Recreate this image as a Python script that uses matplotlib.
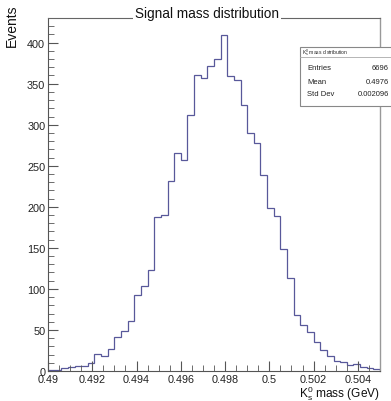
import numpy as np
import matplotlib
matplotlib.use("Agg")
import matplotlib.pyplot as plt
from matplotlib.patches import Rectangle
from matplotlib.lines import Line2D
from matplotlib.ticker import MultipleLocator, FixedLocator, FixedFormatter

plt.rcParams['font.family'] = ['Liberation Sans', 'DejaVu Sans']
plt.rcParams['mathtext.default'] = 'regular'

# histogram: 50 bins between 0.49 and 0.505 GeV
x_lo = 0.49
x_hi = 0.505
n_bins = 50
counts = [1, 1, 4, 5, 6, 6, 10, 21, 18, 27,
          42, 49, 61, 92, 104, 123, 188, 190, 231, 266,
          257, 312, 361, 357, 372, 380, 409, 359, 354, 324,
          290, 278, 239, 199, 189, 149, 113, 68, 56, 47,
          35, 26, 18, 12, 11, 7, 8, 5, 4, 2]

x_ticks = [0.490, 0.492, 0.494, 0.496, 0.498, 0.500, 0.502, 0.504]
x_tick_labels = ['0.49', '0.492', '0.494', '0.496', '0.498', '0.5', '0.502', '0.504']
y_ticks = [0, 50, 100, 150, 200, 250, 300, 350, 400]

title = 'Signal mass distribution'
stats_title = r'K$_s^0$ mass distribution'
stats_names = ['Entries', 'Mean', 'Std Dev']
stats_values = ['6696', '0.4976', '0.002096']

W, H = 391, 402
HIST = '#58589a'


def fx(px):
    return px / W


def fy(py):
    return 1 - py / H


fig = plt.figure(figsize=(W / 100, H / 100), dpi=100)
ax = fig.add_axes([fx(48), fy(372), fx(380) - fx(48), fy(19) - fy(372)])

edges = np.linspace(x_lo, x_hi, n_bins + 1)
ax.stairs(counts, edges, color=HIST, lw=0.9, baseline=0)

ax.set_xlim(x_lo, x_hi)
ax.set_ylim(0, 430)

ax.xaxis.set_major_locator(FixedLocator(x_ticks))
ax.xaxis.set_major_formatter(FixedFormatter(x_tick_labels))
ax.xaxis.set_minor_locator(MultipleLocator(0.0005))
ax.yaxis.set_major_locator(FixedLocator(y_ticks))
ax.yaxis.set_minor_locator(MultipleLocator(10))

ax.tick_params(which='both', direction='in', top=False, right=False,
               color='#555555', labelsize=7.8, labelcolor='#222222')
ax.tick_params(axis='y', which='major', length=7.5, pad=2)
ax.tick_params(axis='y', which='minor', length=4)
ax.tick_params(axis='x', which='major', length=7, pad=2)
ax.tick_params(axis='x', which='minor', length=4)

for side in ['left', 'bottom']:
    ax.spines[side].set_color('#555555')
    ax.spines[side].set_linewidth(0.8)
ax.spines['top'].set_color('#666666')
ax.spines['top'].set_linewidth(0.8)
ax.spines['right'].set_color('#999999')
ax.spines['right'].set_linewidth(1.0)

# title sitting on top frame line
fig.text(fx(207), fy(14), title, ha='center', va='center', fontsize=9.8,
         color='#111111', zorder=5,
         bbox=dict(fc='white', ec='none', pad=1.5))

fig.text(fx(12), fy(26), 'Events', rotation=90, ha='center', va='center',
         fontsize=10, color='#111111')
fig.text(fx(380), fy(398), r'K$_s^0$ mass (GeV)', ha='right', va='baseline',
         fontsize=8.6, color='#111111')

# stats box
box = Rectangle((fx(300), fy(107)), fx(395) - fx(300), fy(48) - fy(107),
                transform=fig.transFigure, fc='white', ec='#888888', lw=0.8,
                zorder=6)
fig.add_artist(box)
fig.add_artist(Line2D([fx(300), fx(391)], [fy(58), fy(58)],
                      transform=fig.transFigure, color='#aaaaaa', lw=0.6,
                      zorder=7))
fig.text(fx(302), fy(53), stats_title, ha='left', va='center', fontsize=3.6,
         color='#222222', zorder=8)
row_y = [68, 82, 95]
for name, val, yy in zip(stats_names, stats_values, row_y):
    fig.text(fx(307), fy(yy), name, ha='left', va='center', fontsize=5.5,
             color='#222222', zorder=8)
    fig.text(fx(389), fy(yy), val, ha='right', va='center', fontsize=5.5,
             color='#222222', zorder=8)

fig.savefig('out.png', dpi=100)
